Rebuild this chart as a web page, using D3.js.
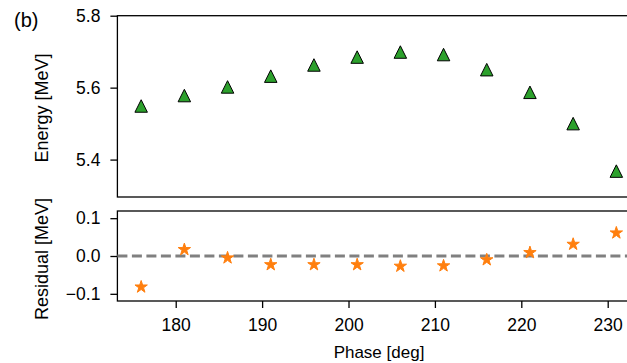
<!DOCTYPE html>
<html>
<head>
<meta charset="utf-8">
<script src="https://cdn.jsdelivr.net/npm/d3@7"></script>
<style>
  body { margin: 0; background: #fff; }
  svg { display: block; font-family: "Liberation Sans", Arial, sans-serif; }
  .axis text { font-size: 17.5px; fill: #000; }
  .axis path, .axis line { stroke: #000; stroke-width: 1.3px; }
  .label { font-size: 18px; fill: #000; }
</style>
</head>
<body>
<div id="chart"></div>
<script>
// phase values (deg)
const phase = [176, 181, 186, 191, 196, 201, 206, 211, 216, 221, 226, 231];
// measured energy (MeV)
const energy = [5.549, 5.578, 5.602, 5.632, 5.663, 5.685, 5.699, 5.692, 5.650, 5.587, 5.500, 5.368];
// residual of fit (MeV)
const residual = [-0.082, 0.017, -0.005, -0.023, -0.023, -0.023, -0.027, -0.026, -0.010, 0.009, 0.031, 0.061];

const xTicks = [180, 190, 200, 210, 220, 230];
const energyTicks = [5.4, 5.6, 5.8];
const residualTicks = [-0.1, 0.0, 0.1];

const W = 627, H = 363;
const left = 117.4, right = 640.1;   // right spine falls outside the picture
const top1 = 15.7, bot1 = 197;
const top2 = 211, bot2 = 301;

const svg = d3.select("#chart").append("svg")
    .attr("width", W)
    .attr("height", H);

const x = d3.scaleLinear().domain([173.25, 233.75]).range([left, right]);
const yE = d3.scaleLinear().domain([5.296, 5.8]).range([bot1, top1]);
const yR = d3.scaleLinear().domain([-0.119, 0.119]).range([bot2, top2]);

// matplotlib style '^' marker
const triangle = {
    draw(ctx, size) {
        const s = Math.sqrt(size) / 2;
        ctx.moveTo(0, -s);
        ctx.lineTo(s, s);
        ctx.lineTo(-s, s);
        ctx.closePath();
    }
};

// ---- top panel ----
const g1 = svg.append("g");

g1.append("rect")
    .attr("x", left).attr("y", top1)
    .attr("width", right - left).attr("height", bot1 - top1)
    .attr("fill", "none").attr("stroke", "#000").attr("stroke-width", 1.3);

g1.append("g")
    .attr("class", "axis")
    .attr("transform", `translate(${left},0)`)
    .call(d3.axisLeft(yE).tickValues(energyTicks).tickFormat(d3.format(".1f")).tickSize(7).tickPadding(10))
    .call(g => g.select(".domain").remove());

g1.selectAll("path.tri")
    .data(phase)
    .join("path")
    .attr("class", "tri")
    .attr("transform", (d, i) => `translate(${x(d)},${yE(energy[i])})`)
    .attr("d", d3.symbol(triangle, 12.5 * 12.5))
    .attr("fill", "#2ca02c")
    .attr("stroke", "#000")
    .attr("stroke-width", 1);

g1.append("text")
    .attr("class", "label")
    .attr("text-anchor", "middle")
    .attr("transform", `translate(48.3,108) rotate(-90)`)
    .text("Energy [MeV]");

// ---- bottom panel ----
const g2 = svg.append("g");

g2.append("rect")
    .attr("x", left).attr("y", top2)
    .attr("width", right - left).attr("height", bot2 - top2)
    .attr("fill", "none").attr("stroke", "#000").attr("stroke-width", 1.3);

g2.append("g")
    .attr("class", "axis")
    .attr("transform", `translate(${left},0)`)
    .call(d3.axisLeft(yR).tickValues(residualTicks)
        .tickFormat(d => d < 0 ? "\u2212" + d3.format(".1f")(-d) : d3.format(".1f")(d))
        .tickSize(7).tickPadding(10))
    .call(g => g.select(".domain").remove());

g2.append("g")
    .attr("class", "axis")
    .attr("transform", `translate(0,${bot2})`)
    .call(d3.axisBottom(x).tickValues(xTicks).tickSize(7).tickPadding(11))
    .call(g => g.select(".domain").remove());

g2.append("line")
    .attr("x1", left).attr("x2", right)
    .attr("y1", yR(0)).attr("y2", yR(0))
    .attr("stroke", "#808080")
    .attr("stroke-width", 3)
    .attr("stroke-dasharray", "10,4.5");

g2.selectAll("path.star")
    .data(phase)
    .join("path")
    .attr("class", "star")
    .attr("transform", (d, i) => `translate(${x(d)},${yR(residual[i])})`)
    .attr("d", d3.symbol(d3.symbolStar, 6.5 * 6.5 / 0.8908130915))
    .attr("fill", "#ff7f0e")
    .attr("stroke", "#ff7f0e")
    .attr("stroke-width", 1);

g2.append("text")
    .attr("class", "label")
    .attr("text-anchor", "middle")
    .attr("transform", `translate(48.3,259) rotate(-90)`)
    .text("Residual [MeV]");

svg.append("text")
    .attr("class", "label")
    .attr("text-anchor", "middle")
    .style("font-size", "17px")
    .attr("x", 379)
    .attr("y", 358)
    .text("Phase [deg]");

svg.append("text")
    .attr("x", 14)
    .attr("y", 27)
    .style("font-size", "20px")
    .text("(b)");
</script>
</body>
</html>
